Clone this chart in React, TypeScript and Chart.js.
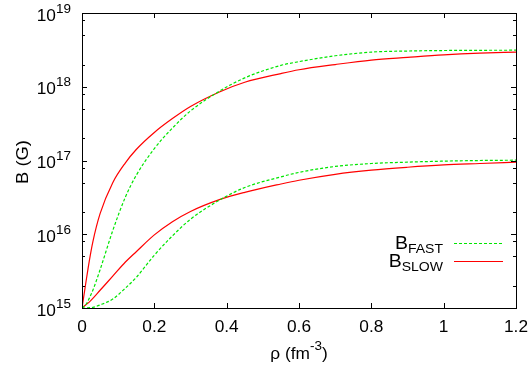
import React, { useEffect, useRef } from 'react';
import { Chart, registerables } from 'chart.js';

Chart.register(...registerables);

// ---- data (density in fm^-3, field in Gauss) ----
const densities = [0, 0.01, 0.02, 0.03, 0.05, 0.085, 0.12, 0.15, 0.2, 0.25, 0.3, 0.38, 0.45, 0.55, 0.6, 0.7, 0.8, 0.9, 1.0, 1.1, 1.2];

const bFastUpper = [1e15, 1.1e15, 1.35e15, 1.74e15, 3.3e15, 1.12e16, 3.2e16, 6.3e16, 1.45e17, 2.75e17, 4.7e17, 8.7e17, 1.32e18, 1.95e18, 2.19e18, 2.63e18, 2.95e18, 3.05e18, 3.1e18, 3.12e18, 3.13e18];
const bSlowUpper = [1e15, 2.1e15, 4.3e15, 7.9e15, 1.9e16, 5.0e16, 9.3e16, 1.41e17, 2.4e17, 3.7e17, 5.4e17, 8.5e17, 1.15e18, 1.51e18, 1.7e18, 2.0e18, 2.3e18, 2.5e18, 2.7e18, 2.85e18, 2.95e18];
const bFastLower = [1e15, 1.0e15, 1.01e15, 1.02e15, 1.1e15, 1.32e15, 1.86e15, 2.6e15, 5.2e15, 9.5e15, 1.6e16, 2.9e16, 4.3e16, 6.0e16, 6.9e16, 8.3e16, 9.1e16, 9.5e16, 9.8e16, 1.0e17, 1.01e17];
const bSlowLower = [1e15, 1.1e15, 1.2e15, 1.35e15, 1.74e15, 2.7e15, 4.2e15, 5.8e15, 9.8e15, 1.48e16, 2.04e16, 2.95e16, 3.7e16, 4.8e16, 5.4e16, 6.5e16, 7.4e16, 8.1e16, 8.7e16, 9.1e16, 9.5e16];

const xTickValues = [0, 0.2, 0.4, 0.6, 0.8, 1, 1.2];
const xTickLabels = ['0', '0.2', '0.4', '0.6', '0.8', '1', '1.2'];
const yTickValues = [1e15, 1e16, 1e17, 1e18, 1e19];
const yTickBase = '10';
const yTickExponents = ['15', '16', '17', '18', '19'];
const yMinorMultipliers = [2, 5, 8];

const FONT = '"Liberation Sans", Arial, Helvetica, sans-serif';
const GREEN = '#00e600';
const RED = '#ff0000';
const SX = 1.08;

type Part = { t: string; size: number; dy?: number };

function drawRich(ctx: CanvasRenderingContext2D, parts: Part[], x: number, y: number, align: 'left' | 'center' | 'right') {
  const widths = parts.map((p) => {
    ctx.font = `${p.size}px ${FONT}`;
    return ctx.measureText(p.t).width * SX;
  });
  const total = widths.reduce((a, b) => a + b, 0);
  let cx = align === 'left' ? x : align === 'center' ? x - total / 2 : x - total;
  parts.forEach((p, i) => {
    ctx.save();
    ctx.font = `${p.size}px ${FONT}`;
    ctx.textAlign = 'left';
    ctx.textBaseline = 'alphabetic';
    ctx.translate(cx, y + (p.dy || 0));
    ctx.scale(SX, 1);
    ctx.fillText(p.t, 0, 0);
    ctx.restore();
    cx += widths[i];
  });
}

const gnuplotFrame = {
  id: 'gnuplotFrame',
  afterDraw(chart: any) {
    const ctx: CanvasRenderingContext2D = chart.ctx;
    const { left, right, top, bottom } = chart.chartArea;
    const xs = chart.scales.x;
    const ys = chart.scales.y;
    ctx.save();
    ctx.fillStyle = '#000';
    ctx.strokeStyle = '#000';
    ctx.lineWidth = 1;

    // frame
    ctx.strokeRect(left + 0.5, top + 0.5, right - left, bottom - top);

    // x ticks (inward, mirrored on top)
    ctx.beginPath();
    xTickValues.forEach((v) => {
      const px = Math.round(xs.getPixelForValue(v)) + 0.5;
      ctx.moveTo(px, bottom);
      ctx.lineTo(px, bottom - 5);
      ctx.moveTo(px, top);
      ctx.lineTo(px, top + 5);
    });
    // y major ticks
    yTickValues.forEach((v) => {
      const py = Math.round(ys.getPixelForValue(v)) + 0.5;
      ctx.moveTo(left, py);
      ctx.lineTo(left + 5, py);
      ctx.moveTo(right, py);
      ctx.lineTo(right - 5, py);
    });
    // y minor ticks
    yTickValues.slice(0, -1).forEach((v) => {
      yMinorMultipliers.forEach((m) => {
        const py = Math.round(ys.getPixelForValue(v * m)) + 0.5;
        ctx.moveTo(left, py);
        ctx.lineTo(left + 3, py);
        ctx.moveTo(right, py);
        ctx.lineTo(right - 3, py);
      });
    });
    ctx.stroke();

    // x tick labels
    xTickValues.forEach((v, i) => {
      const px = xs.getPixelForValue(v);
      drawRich(ctx, [{ t: xTickLabels[i], size: 16 }], px, bottom + 24, 'center');
    });

    // y tick labels 10^n
    yTickValues.forEach((v, i) => {
      const py = ys.getPixelForValue(v);
      drawRich(ctx, [{ t: yTickBase, size: 16 }, { t: yTickExponents[i], size: 12.5, dy: -8 }], left - 11, py + 7.5, 'right');
    });

    // x title
    drawRich(ctx, [{ t: 'ρ (fm', size: 16 }, { t: '-3', size: 12.5, dy: -9 }, { t: ')', size: 16 }], (left + right) / 2, 359, 'center');

    // y title
    ctx.save();
    ctx.translate(28, 162);
    ctx.rotate(-Math.PI / 2);
    ctx.font = `17px ${FONT}`;
    ctx.textAlign = 'center';
    ctx.textBaseline = 'alphabetic';
    ctx.scale(SX, 1);
    ctx.fillText('B (G)', 0, 0);
    ctx.restore();

    // legend
    drawRich(ctx, [{ t: 'B', size: 18 }, { t: 'FAST', size: 13, dy: 4 }], 443, 249, 'right');
    drawRich(ctx, [{ t: 'B', size: 18 }, { t: 'SLOW', size: 13, dy: 4 }], 443, 267, 'right');
    ctx.lineWidth = 1.2;
    ctx.strokeStyle = GREEN;
    ctx.setLineDash([3, 2]);
    ctx.beginPath();
    ctx.moveTo(454, 243.5);
    ctx.lineTo(503, 243.5);
    ctx.stroke();
    ctx.setLineDash([]);
    ctx.strokeStyle = RED;
    ctx.beginPath();
    ctx.moveTo(454, 261.5);
    ctx.lineTo(503, 261.5);
    ctx.stroke();

    ctx.restore();
  },
};

export default function App() {
  const canvasRef = useRef<HTMLCanvasElement | null>(null);

  useEffect(() => {
    const canvas = canvasRef.current;
    if (!canvas) return;
    const mk = (data: number[], color: string, dashed: boolean) => ({
      data: densities.map((x, i) => ({ x, y: data[i] })),
      borderColor: color,
      backgroundColor: color,
      borderWidth: 1.2,
      borderDash: dashed ? [3, 2] : [],
      pointRadius: 0,
      fill: false,
      cubicInterpolationMode: 'monotone' as const,
    });
    const chart = new Chart(canvas, {
      type: 'line',
      data: {
        datasets: [
          { label: 'B_FAST', ...mk(bFastUpper, GREEN, true) },
          { label: 'B_SLOW', ...mk(bSlowUpper, RED, false) },
          { label: 'B_FAST lower', ...mk(bFastLower, GREEN, true) },
          { label: 'B_SLOW lower', ...mk(bSlowLower, RED, false) },
        ],
      },
      options: {
        animation: false,
        responsive: false,
        devicePixelRatio: 1,
        layout: { padding: { left: 82, top: 13, right: 16, bottom: 63 } },
        plugins: { legend: { display: false }, tooltip: { enabled: false }, title: { display: false } },
        scales: {
          x: { type: 'linear', min: 0, max: 1.2, display: false },
          y: { type: 'logarithmic', min: 1e15, max: 1e19, display: false },
        },
        events: [],
      },
      plugins: [gnuplotFrame],
    });
    return () => chart.destroy();
  }, []);

  return (
    <div style={{ position: 'fixed', left: 0, top: 0, width: 532, height: 371, background: '#fff' }}>
      <canvas ref={canvasRef} width={532} height={371} style={{ width: 532, height: 371, display: 'block' }} />
    </div>
  );
}
